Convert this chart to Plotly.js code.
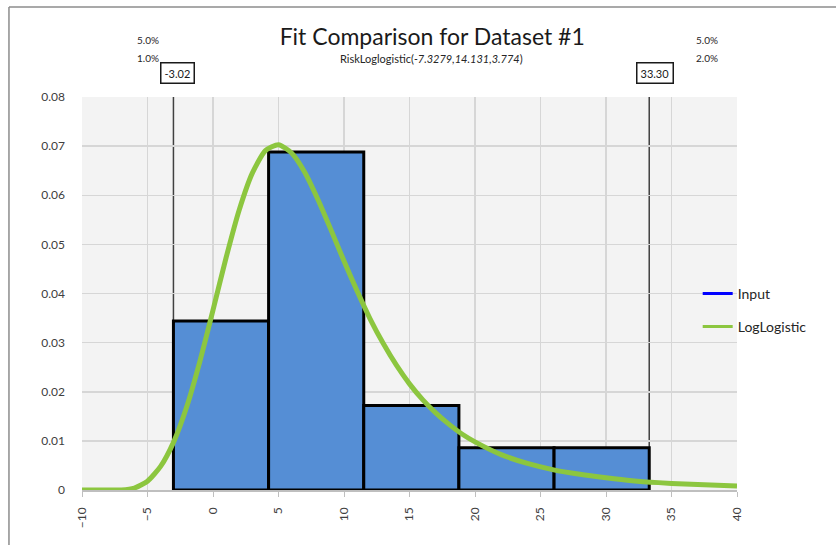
<!DOCTYPE html>
<html>
<head>
<meta charset="utf-8">
<script src="https://cdn.plot.ly/plotly-3.0.1.min.js"></script>
<style>
  html, body { margin: 0; padding: 0; background: #ffffff; }
  #chart { width: 836px; height: 545px; }
</style>
</head>
<body>
<div id="chart"></div>
<script>
// Input histogram: bin edges and density of each bin
const binEdges = [-3.02, 4.244, 11.508, 18.772, 26.036, 33.30];
const binDensity = [0.0344, 0.0688, 0.0172, 0.0086, 0.0086];

// Fitted LogLogistic density
const fitX = [-10, -9, -8, -7, -6, -5, -4, -3, -2, -1, 0, 1, 2, 3, 4, 5, 6, 7, 8, 9, 10,
              11, 12, 13, 14, 15, 16, 17, 18, 19, 20, 22, 24, 26, 28, 30, 32, 34, 36, 38, 40];
const fitY = [0, 0, 0, 0, 0.0004, 0.0018, 0.0048, 0.0098, 0.0170, 0.0262, 0.0366, 0.0473,
              0.0570, 0.0645, 0.0691, 0.0703, 0.0686, 0.0647, 0.0592, 0.0530, 0.0466,
              0.0405, 0.0348, 0.0298, 0.0254, 0.0216, 0.0184, 0.0157, 0.0134, 0.0114,
              0.0098, 0.0072, 0.0054, 0.0041, 0.0032, 0.0025, 0.0019, 0.0015, 0.0012,
              0.0010, 0.0008];

// Delimiter markers (left / right) with their percentages
const markerValues = [-3.02, 33.30];
const markerPctTop = ['5.0%', '5.0%'];
const markerPctBottom = ['1.0%', '2.0%'];

// Axis ticks
const yTickVals = [0, 0.01, 0.02, 0.03, 0.04, 0.05, 0.06, 0.07, 0.08];
const yTickText = ['0', '0.01', '0.02', '0.03', '0.04', '0.05', '0.06', '0.07', '0.08'];
const xTickVals = [-10, -5, 0, 5, 10, 15, 20, 25, 30, 35, 40];

const chartTitle = 'Fit Comparison for Dataset #1';
const fitLabel = 'RiskLoglogistic(<i>-7.3279,14.131,3.774</i>)';
const seriesNames = ['Input', 'LogLogistic'];

const FONT = 'Lato, "Liberation Sans", Arial, sans-serif';
const BLUE_FILL = '#558ed5';
const GREEN = '#8cc63f';

const binLeft = binEdges.slice(0, -1);
const binWidth = binLeft.map((e, i) => binEdges[i + 1] - e);

const traces = [
  {
    type: 'bar',
    x: binLeft,
    y: binDensity,
    width: binWidth,
    offset: 0,
    marker: { color: BLUE_FILL, line: { color: '#000000', width: 3 } },
    showlegend: false,
    hoverinfo: 'skip'
  },
  {
    type: 'scatter',
    mode: 'lines',
    x: fitX,
    y: fitY,
    line: { color: GREEN, width: 5, shape: 'spline', smoothing: 0.6 },
    showlegend: false,
    hoverinfo: 'skip'
  },
  // legend entries
  {
    type: 'scatter', mode: 'lines', x: [null], y: [null],
    name: seriesNames[0], line: { color: '#0000ff', width: 3 },
    legend: 'legend'
  },
  {
    type: 'scatter', mode: 'lines', x: [null], y: [null],
    name: seriesNames[1], line: { color: GREEN, width: 3 },
    legend: 'legend2'
  }
];

const shapes = [];
const annotations = [];

markerValues.forEach((v, i) => {
  shapes.push({
    type: 'line', xref: 'x', yref: 'paper', x0: v, x1: v, y0: 0, y1: 1,
    line: { color: '#404040', width: 1.5 }, layer: 'between'
  });
  annotations.push({
    xref: 'x', yref: 'paper', x: v, y: 1.061, xanchor: 'left', yanchor: 'middle',
    xshift: -13, showarrow: false, text: v.toFixed(2),
    font: { family: FONT, size: 11, color: '#1a1a1a' },
    bgcolor: '#ffffff', bordercolor: '#1a1a1a', borderwidth: 1.5, borderpad: 3
  });
  const left = i === 0;
  [markerPctTop[i], markerPctBottom[i]].forEach((t, k) => {
    annotations.push({
      xref: 'x', yref: 'paper', x: v, y: k === 0 ? 1.145 : 1.099,
      xanchor: left ? 'right' : 'left', yanchor: 'middle',
      xshift: left ? -12 : 45, showarrow: false, text: t,
      font: { family: FONT, size: 10, color: '#262626' }
    });
  });
});

annotations.push({
  xref: 'paper', yref: 'paper', x: 0.534, y: 1.099, xanchor: 'center', yanchor: 'middle',
  showarrow: false, text: fitLabel,
  font: { family: FONT, size: 11, color: '#262626' }
});

// outer chart frame
shapes.push({ type: 'line', xref: 'paper', yref: 'paper', x0: -0.1115, x1: -0.1115, y0: 1.229, y1: -0.2,
  line: { color: '#8c8c8c', width: 1.5 } });
shapes.push({ type: 'line', xref: 'paper', yref: 'paper', x0: -0.1115, x1: 1.3, y0: 1.229, y1: 1.229,
  line: { color: '#8c8c8c', width: 1.5 } });

const layout = {
  width: 836,
  height: 545,
  margin: { l: 82, r: 99, t: 97, b: 55 },
  paper_bgcolor: '#ffffff',
  plot_bgcolor: '#f3f3f3',
  font: { family: FONT, color: '#404040' },
  title: {
    text: chartTitle,
    x: 0.517, xanchor: 'center', xref: 'container',
    y: 0.932, yanchor: 'middle', yref: 'container',
    font: { family: FONT, size: 23, color: '#1a1a1a' }
  },
  xaxis: {
    range: [-10, 40],
    tickvals: xTickVals,
    tickangle: -90,
    ticks: 'outside', ticklen: 5, tickcolor: '#bfbfbf', tickwidth: 1,
    ticklabelstandoff: 6,
    showgrid: true, gridcolor: '#d6d6d6', gridwidth: 1.5,
    showline: true, linecolor: '#bfbfbf', linewidth: 1.5,
    zeroline: false,
    tickfont: { family: FONT, size: 12, color: '#404040' },
    fixedrange: true
  },
  yaxis: {
    range: [0, 0.08],
    tickvals: yTickVals,
    ticktext: yTickText,
    ticks: '',
    ticklabelstandoff: 16,
    showgrid: true, gridcolor: '#d6d6d6', gridwidth: 1.5,
    showline: false,
    zeroline: false,
    tickfont: { family: FONT, size: 12, color: '#404040' },
    fixedrange: true
  },
  bargap: 0,
  legend: {
    x: 0.94, xanchor: 'left', y: 0.4987, yanchor: 'middle',
    bgcolor: 'rgba(0,0,0,0)', borderwidth: 0,
    font: { family: FONT, size: 14, color: '#262626' }
  },
  legend2: {
    x: 0.94, xanchor: 'left', y: 0.4148, yanchor: 'middle',
    bgcolor: 'rgba(0,0,0,0)', borderwidth: 0,
    font: { family: FONT, size: 14, color: '#262626' }
  },
  shapes: shapes,
  annotations: annotations
};

Plotly.newPlot('chart', traces, layout, { displayModeBar: false, staticPlot: true });
</script>
</body>
</html>
